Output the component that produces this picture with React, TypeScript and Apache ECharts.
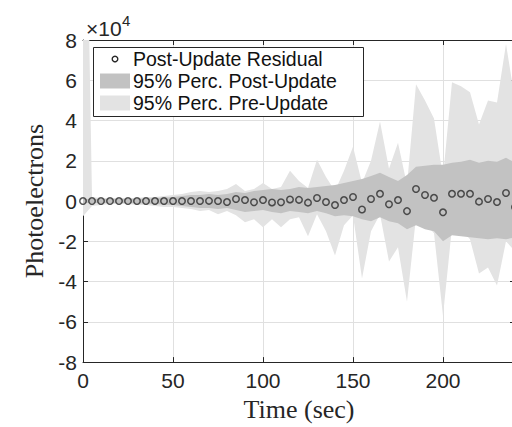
import React, { useEffect, useRef } from "react";
import * as echarts from "echarts";

// Time stamps (sec)
const TIMES = [
  0, 5, 10, 15, 20, 25, 30, 35, 40, 45, 50, 55, 60, 65, 70, 75, 80, 85, 90, 95,
  100, 105, 110, 115, 120, 125, 130, 135, 140, 145, 150, 155, 160, 165, 170, 175,
  180, 185, 190, 195, 200, 205, 210, 215, 220, 225, 230, 235, 240,
];

// Post-update residual (photoelectrons)
const RESIDUAL = [
  0, 0, 0, 0, 0, 0, 0, 0, 0, 0, 0, 0, 0, 0, 100, 0, -500, 1000, 500, -600,
  500, -700, -600, 800, 600, -800, 1500, -500, -2000, 500, 2000, -4200, 1000, 3600, -1600, 500,
  -5000, 6000, 3000, 1600, -5600, 3600, 3600, 3600, -300, 1000, -500, 4000, -3000,
];

// 95% percentile band, post-update
const POST_UPPER = [
  1000, 1000, 1000, 1000, 1000, 1000, 1200, 1200, 1500, 1800, 2000, 2500, 3000, 3000, 3500, 3000, 3500, 4500, 4000, 5000,
  5500, 6000, 5500, 6000, 7000, 6500, 7000, 7500, 8000, 9000, 10000, 11000, 12500, 14000, 12000, 10000,
  13000, 17000, 17500, 18000, 18000, 19000, 19500, 20500, 19000, 20000, 19500, 21500, 19000,
];
const POST_LOWER = [
  -1000, -1000, -1000, -1000, -1000, -1000, -1200, -1200, -1500, -1800, -2000, -2500, -3000, -3500, -3500, -4000, -3500, -4500, -5500, -5000,
  -4500, -5500, -6000, -5000, -5500, -6000, -5000, -6000, -7500, -7000, -7500, -9000, -10000, -8000, -10000, -11000,
  -14000, -12000, -14000, -15000, -20000, -17000, -17500, -18000, -18500, -19000, -18500, -19000, -18000,
];

// 95% percentile band, pre-update
const PRE_UPPER = [
  260000, 2000, 1500, 1500, 1500, 1500, 1500, 2000, 2000, 2500, 3000, 3500, 4500, 5000, 4500, 5000, 6000, 8500, 5000, 6000,
  9000, 6000, 7000, 15000, 10000, 6500, 20500, 12000, 5000, 15000, 27000, 9000, 20000, 39500, 16000, 29000,
  8000, 58000, 50000, 41000, 12000, 59000, 57000, 54000, 38000, 50000, 49000, 78000, 50000,
];
const PRE_LOWER = [
  -7500, -2500, -2000, -1500, -1500, -1500, -2000, -2000, -2500, -3000, -3000, -3500, -4000, -5000, -4500, -6500, -5000, -7000, -10500, -9000,
  -13000, -9000, -13000, -9000, -8000, -17500, -6500, -15000, -27000, -12000, -7000, -38500, -15000, -6500, -30000, -23000,
  -50000, -8000, -11000, -16000, -57000, -13000, -14000, -19000, -36000, -33000, -42000, -20000, -25000,
];

const LEGEND_LABELS = ["Post-Update Residual", "95% Perc. Post-Update", "95% Perc. Pre-Update"];

const AX = "#262626";
const GRID = "#e0e0e0";
const DARK = "#c2c2c2";
const LIGHT = "#e3e3e3";
const SANS = "Liberation Sans, Arial, sans-serif";
const SERIF = "Liberation Serif, Times New Roman, serif";

export default function App() {
  const ref = useRef<HTMLDivElement>(null);

  useEffect(() => {
    const chart = echarts.init(ref.current!, null, { renderer: "svg" });
    const diff = (u: number[], l: number[]) => u.map((v, i) => v - l[i]);
    const cats = TIMES.map(String);

    const tickLabel = { fontFamily: SANS, fontSize: 21, color: AX };
    const hiddenLine = { width: 0, opacity: 0 };
    const EVERY = 9; // a labelled tick every 10 samples (50 s)
    const ROW_Y = [59, 81, 103];

    const option: any = {
      animation: false,
      backgroundColor: "#ffffff",
      grid: { left: 83, top: 40, width: 432, height: 325 },
      xAxis: [
        {
          type: "category",
          data: cats,
          boundaryGap: false,
          position: "bottom",
          axisLine: { show: true, onZero: false, lineStyle: { color: AX, width: 1 } },
          axisTick: { show: true, inside: true, length: 5, interval: EVERY, lineStyle: { color: AX } },
          axisLabel: { ...tickLabel, margin: 8, interval: EVERY },
          splitLine: { show: true, interval: EVERY, lineStyle: { color: GRID, width: 1 } },
          name: "Time (sec)",
          nameLocation: "middle",
          nameGap: 30,
          nameTextStyle: { fontFamily: SERIF, fontSize: 26, color: AX },
        },
        {
          type: "category",
          data: cats,
          boundaryGap: false,
          position: "top",
          axisLine: { show: true, onZero: false, lineStyle: { color: AX, width: 1 } },
          axisTick: { show: true, inside: true, length: 5, interval: EVERY, lineStyle: { color: AX } },
          axisLabel: { show: false },
          splitLine: { show: false },
        },
      ],
      yAxis: [
        {
          type: "value",
          min: -80000,
          max: 80000,
          interval: 20000,
          position: "left",
          axisLine: { show: true, onZero: false, lineStyle: { color: AX, width: 1 } },
          axisTick: { show: true, inside: true, length: 5, lineStyle: { color: AX } },
          axisLabel: { ...tickLabel, margin: 6, formatter: (v: number) => String(v / 10000) },
          splitLine: { show: true, lineStyle: { color: GRID, width: 1 } },
          name: "Photoelectrons",
          nameLocation: "middle",
          nameRotate: 90,
          nameGap: 33,
          nameTextStyle: { fontFamily: SERIF, fontSize: 26, color: AX },
        },
        {
          type: "value",
          min: -80000,
          max: 80000,
          interval: 20000,
          position: "right",
          axisLine: { show: true, onZero: false, lineStyle: { color: AX, width: 1 } },
          axisTick: { show: true, inside: true, length: 5, lineStyle: { color: AX } },
          axisLabel: { show: false },
          splitLine: { show: false },
        },
      ],
      series: [
        {
          name: "preLower",
          type: "line",
          stack: "pre",
          stackStrategy: "all",
          data: PRE_LOWER,
          symbol: "none",
          lineStyle: hiddenLine,
          silent: true,
        },
        {
          name: LEGEND_LABELS[2],
          type: "line",
          stack: "pre",
          stackStrategy: "all",
          data: diff(PRE_UPPER, PRE_LOWER),
          symbol: "none",
          lineStyle: hiddenLine,
          areaStyle: { color: LIGHT, opacity: 1 },
          silent: true,
        },
        {
          name: "postLower",
          type: "line",
          stack: "post",
          stackStrategy: "all",
          data: POST_LOWER,
          symbol: "none",
          lineStyle: hiddenLine,
          silent: true,
        },
        {
          name: LEGEND_LABELS[1],
          type: "line",
          stack: "post",
          stackStrategy: "all",
          data: diff(POST_UPPER, POST_LOWER),
          symbol: "none",
          lineStyle: hiddenLine,
          areaStyle: { color: DARK, opacity: 1 },
          silent: true,
        },
        {
          name: LEGEND_LABELS[0],
          type: "scatter",
          data: RESIDUAL,
          symbol: "circle",
          symbolSize: 6.5,
          itemStyle: { color: "rgba(0,0,0,0)", borderColor: "#2a2a2a", borderWidth: 1.5 },
          z: 5,
        },
      ],
      graphic: [
        {
          type: "text",
          z: 100,
          style: { text: "×10", x: 86, y: 28.5, font: `21px ${SANS}`, fill: AX, textAlign: "left", textVerticalAlign: "middle" },
        },
        {
          type: "text",
          z: 100,
          style: { text: "4", x: 122, y: 20.5, font: `15px ${SANS}`, fill: AX, textAlign: "left", textVerticalAlign: "middle" },
        },
        {
          type: "rect",
          z: 100,
          shape: { x: 93.5, y: 47.5, width: 270, height: 69 },
          style: { fill: "#ffffff", stroke: AX, lineWidth: 1 },
        },
        {
          type: "circle",
          z: 101,
          shape: { cx: 115, cy: ROW_Y[0], r: 2.8 },
          style: { fill: "none", stroke: "#2a2a2a", lineWidth: 1.4 },
        },
        {
          type: "rect",
          z: 101,
          shape: { x: 100, y: ROW_Y[1] - 7.5, width: 30, height: 15 },
          style: { fill: DARK },
        },
        {
          type: "rect",
          z: 101,
          shape: { x: 100, y: ROW_Y[2] - 7.5, width: 30, height: 15 },
          style: { fill: LIGHT },
        },
        ...LEGEND_LABELS.map((label, i) => ({
          type: "text",
          z: 101,
          style: {
            text: label,
            x: 133,
            y: ROW_Y[i],
            font: `19.5px ${SANS}`,
            fill: "#111111",
            textAlign: "left",
            textVerticalAlign: "middle",
          },
        })),
      ],
    };

    chart.setOption(option);
    return () => chart.dispose();
  }, []);

  return (
    <div style={{ position: "fixed", left: 0, top: 0, width: 512, height: 427, overflow: "hidden", background: "#fff" }}>
      <div ref={ref} style={{ width: 540, height: 427 }} />
    </div>
  );
}
